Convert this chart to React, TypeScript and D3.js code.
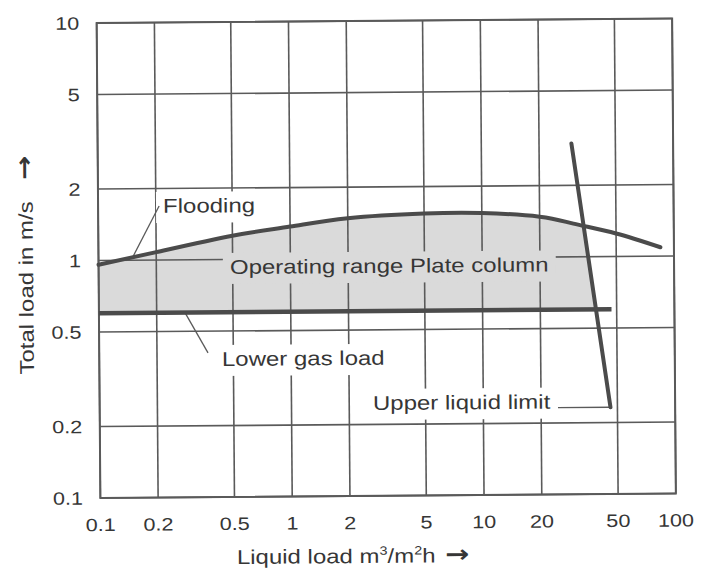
import React from "react";
import * as d3 from "d3";

// ---- data ----
const X_TICKS = [0.1, 0.2, 0.5, 1, 2, 5, 10, 20, 50, 100];
const X_TICK_LABELS = ["0.1", "0.2", "0.5", "1", "2", "5", "10", "20", "50", "100"];
const Y_TICKS = [0.1, 0.2, 0.5, 1, 2, 5, 10];
const Y_TICK_LABELS = ["0.1", "0.2", "0.5", "1", "2", "5", "10"];

const floodX = [0.1, 0.2, 0.5, 1, 2, 5, 10, 20, 30, 50, 85];
const floodY = [0.96, 1.08, 1.26, 1.37, 1.48, 1.54, 1.54, 1.48, 1.38, 1.25, 1.09];

const lowerGasX = [0.1, 47];
const lowerGasY = [0.6, 0.6];

const upperLimitX = [29.5, 46];
const upperLimitY = [3.0, 0.232];

const LABEL_TEXT = ["Flooding", "Operating range Plate column", "Lower gas load", "Upper liquid limit"];
const LABEL_X = [0.218, 0.484, 0.436, 2.66];
const LABEL_Y = [1.58, 0.869, 0.3565, 0.23];

const LEADER_X1 = [0.151, 0.281, 24.5];
const LEADER_Y1 = [1.033, 0.6, 0.232];
const LEADER_X2 = [0.208, 0.369, 46];
const LEADER_Y2 = [1.69, 0.405, 0.232];

const X_TITLE = "Liquid load m";
const Y_TITLE = "Total load in m/s";

// ---- layout / style ----
const W = 706, H = 568;
const L = 98.5, R = 674, T = 20.8, B = 495.8;
const SX = 1.2;
const FONT = '"Liberation Sans", Arial, Helvetica, sans-serif';
const TXT = "#363636";
const GRID = "#5a5a5a";
const CURVE = "#4b4b4b";
const FILL = "#dadada";

let ctx: CanvasRenderingContext2D | null = null;
function measure(text: string, size: number) {
  if (!ctx) ctx = document.createElement("canvas").getContext("2d");
  if (!ctx) return text.length * size * 0.55;
  ctx.font = `${size}px "Liberation Sans"`;
  return ctx.measureText(text).width;
}

export default function App() {
  const x = d3.scaleLog().domain([0.1, 100]).range([L, R]);
  const y = d3.scaleLog().domain([0.1, 10]).range([B, T]);

  const flood = floodX.map((v, i) => [v, floodY[i]] as [number, number]);
  const curve = d3.curveNatural;
  const line = d3
    .line<[number, number]>()
    .x((d) => x(d[0]))
    .y((d) => y(d[1]))
    .curve(curve);
  const area = d3
    .area<[number, number]>()
    .x((d) => x(d[0]))
    .y0(() => y(lowerGasY[0]))
    .y1((d) => y(d[1]))
    .curve(curve);

  // clip polygon left of the upper liquid limit line
  const p1 = [x(upperLimitX[0]), y(upperLimitY[0])];
  const p2 = [x(upperLimitX[1]), y(upperLimitY[1])];
  const dxl = p2[0] - p1[0], dyl = p2[1] - p1[1];
  const at = (yy: number) => p1[0] + ((yy - p1[1]) / dyl) * dxl;
  const yTop = T - 50, yBot = B + 50;
  const clipPts = [
    [L - 20, yTop],
    [at(yTop), yTop],
    [at(yBot), yBot],
    [L - 20, yBot],
  ];

  const labelBg = ["#fff", FILL, "#fff", "#fff"];

  return (
    <svg
      width={W}
      height={H}
      style={{ position: "absolute", left: 0, top: 0, background: "#fff" }}
      fontFamily={FONT}
    >
      <defs>
        <clipPath id="opclip">
          <polygon points={clipPts.map((p) => p.join(",")).join(" ")} />
        </clipPath>
      </defs>
      <rect width={W} height={H} fill="#fff" />
      <g transform="rotate(-0.45 386 258)">
        {/* operating range fill */}
        <path d={area(flood) || ""} fill={FILL} clipPath="url(#opclip)" />

        {/* grid */}
        {X_TICKS.map((v) => (
          <line key={"gx" + v} x1={x(v)} x2={x(v)} y1={T} y2={B} stroke={GRID} strokeWidth={1.6} />
        ))}
        {Y_TICKS.map((v) => (
          <line key={"gy" + v} x1={L} x2={R} y1={y(v)} y2={y(v)} stroke={GRID} strokeWidth={1.6} />
        ))}
        <rect x={L} y={T} width={R - L} height={B - T} fill="none" stroke={GRID} strokeWidth={2} />

        {/* tick labels */}
        {X_TICKS.map((v, i) => (
          <g key={"tx" + v} transform={`translate(${x(v)},${B + 33}) scale(${SX},1)`}>
            <text textAnchor="middle" fontSize={18} fill={TXT}>
              {X_TICK_LABELS[i]}
            </text>
          </g>
        ))}
        {Y_TICKS.map((v, i) => (
          <g key={"ty" + v} transform={`translate(${L - 17.5},${y(v) + 6.4}) scale(${SX},1)`}>
            <text textAnchor="end" fontSize={18} fill={TXT}>
              {Y_TICK_LABELS[i]}
            </text>
          </g>
        ))}

        {/* annotation labels with background */}
        {LABEL_TEXT.map((t, i) => {
          const w = measure(t, 20);
          return (
            <g key={"lab" + i} transform={`translate(${x(LABEL_X[i])},${y(LABEL_Y[i])}) scale(${SX},1)`}>
              <rect x={-7 / SX} y={-21} width={w + 14 / SX} height={31} fill={labelBg[i]} />
              <text fontSize={20} fill={TXT}>
                {t}
              </text>
            </g>
          );
        })}

        {/* leaders */}
        {LEADER_X1.map((v, i) => (
          <line
            key={"ld" + i}
            x1={x(v)}
            y1={y(LEADER_Y1[i])}
            x2={x(LEADER_X2[i])}
            y2={y(LEADER_Y2[i])}
            stroke={GRID}
            strokeWidth={1.3}
          />
        ))}

        {/* curves */}
        <path d={line(flood) || ""} fill="none" stroke={CURVE} strokeWidth={4} strokeLinecap="round" />
        <line
          x1={x(lowerGasX[0])}
          x2={x(lowerGasX[1])}
          y1={y(lowerGasY[0])}
          y2={y(lowerGasY[1])}
          stroke={CURVE}
          strokeWidth={4.5}
        />
        <line
          x1={x(upperLimitX[0])}
          y1={y(upperLimitY[0])}
          x2={x(upperLimitX[1])}
          y2={y(upperLimitY[1])}
          stroke={CURVE}
          strokeWidth={4}
          strokeLinecap="round"
        />

        {/* axis titles */}
        <g transform={`translate(${L + 136},${B + 67}) scale(${SX},1)`}>
          <text fontSize={20} fill={TXT}>
            {X_TITLE}
            <tspan fontSize={12} dy={-8}>3</tspan>
            <tspan fontSize={20} dy={8}>/m</tspan>
            <tspan fontSize={12} dy={-8}>2</tspan>
            <tspan fontSize={20} dy={8}>h</tspan>
            <tspan dx={8} fontSize={24} fontFamily="DejaVu Sans" fontWeight="bold">→</tspan>
          </text>
        </g>
        <g transform={`translate(33,${B - 124}) rotate(-90) scale(${SX},1)`}>
          <text fontSize={20} fill={TXT}>
            {Y_TITLE}
            <tspan dx={18} fontSize={24} fontFamily="DejaVu Sans" fontWeight="bold">→</tspan>
          </text>
        </g>
      </g>
    </svg>
  );
}
